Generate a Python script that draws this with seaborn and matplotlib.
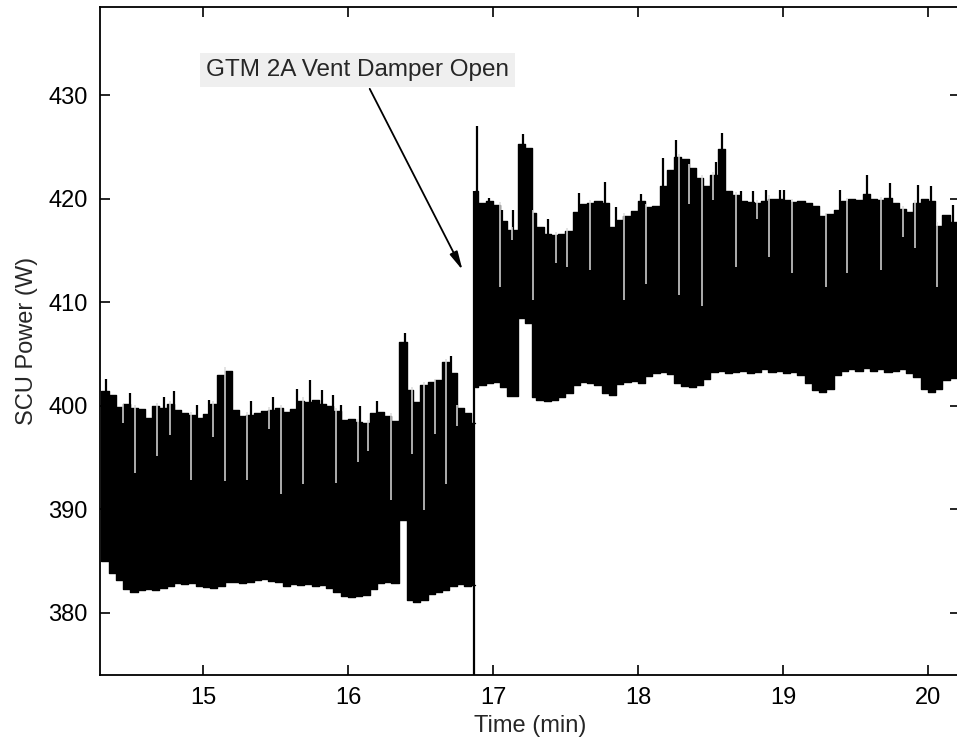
import numpy as np
import pandas as pd
import matplotlib
matplotlib.use("Agg")
import matplotlib.pyplot as plt
import seaborn as sns

# ---------------- data ----------------
# Segment before the damper opens (envelope of the dense SCU power signal)
seg1_time = [14.30, 14.35, 14.40, 14.45, 14.50, 14.55, 14.60, 14.65, 14.70, 14.75,
             14.80, 14.85, 14.90, 14.95, 15.00, 15.05, 15.10, 15.15, 15.20, 15.25,
             15.30, 15.35, 15.40, 15.45, 15.50, 15.55, 15.60, 15.65, 15.70, 15.75,
             15.80, 15.85, 15.90, 15.95, 16.00, 16.05, 16.10, 16.15, 16.20, 16.25,
             16.30, 16.35, 16.41, 16.45, 16.50, 16.55, 16.60, 16.65, 16.70, 16.75,
             16.80, 16.85]
seg1_upper = [401.4, 401.0, 399.9, 400.2, 399.8, 399.7, 398.8, 400.0, 399.8, 400.2,
              399.6, 399.3, 399.1, 398.8, 399.2, 400.2, 403.0, 403.4, 399.6, 399.0,
              399.1, 399.3, 399.5, 399.6, 399.8, 399.4, 399.7, 400.5, 400.4, 400.6,
              400.2, 400.0, 399.5, 398.6, 398.7, 398.4, 398.3, 399.3, 399.4, 399.0,
              398.5, 406.2, 401.5, 400.4, 402.0, 402.3, 402.5, 404.2, 403.2, 399.8,
              399.3, 398.3]
seg1_lower = [385.0, 383.8, 383.2, 382.3, 382.0, 382.2, 382.3, 382.2, 382.4, 382.6,
              382.9, 382.8, 382.9, 382.6, 382.5, 382.4, 382.6, 383.0, 383.0, 382.9,
              383.0, 383.2, 383.3, 383.1, 383.0, 382.6, 382.8, 382.7, 382.8, 382.6,
              382.7, 382.4, 382.0, 381.6, 381.5, 381.6, 381.7, 382.3, 382.9, 383.0,
              382.9, 389.0, 381.2, 381.0, 381.2, 381.8, 382.0, 382.2, 382.6, 382.8,
              382.6, 382.7]
seg1_end = 16.875

# Segment after the damper opens
seg2_time = [16.875, 16.90, 16.95, 17.00, 17.05, 17.10, 17.17, 17.22, 17.27, 17.30,
             17.35, 17.40, 17.45, 17.50, 17.55, 17.60, 17.65, 17.70, 17.75, 17.80,
             17.85, 17.90, 17.95, 18.00, 18.05, 18.10, 18.15, 18.20, 18.25, 18.30,
             18.35, 18.40, 18.45, 18.50, 18.55, 18.60, 18.65, 18.70, 18.75, 18.80,
             18.85, 18.90, 18.95, 19.00, 19.05, 19.10, 19.15, 19.20, 19.25, 19.30,
             19.35, 19.40, 19.45, 19.50, 19.55, 19.60, 19.65, 19.70, 19.75, 19.80,
             19.85, 19.90, 19.95, 20.00, 20.05, 20.10, 20.15]
seg2_upper = [420.7, 419.6, 419.8, 419.4, 417.8, 417.0, 425.3, 424.9, 418.6, 417.3,
              416.6, 416.5, 416.6, 416.9, 418.7, 419.5, 419.6, 419.8, 419.6, 417.3,
              417.9, 418.3, 418.8, 419.8, 419.2, 419.3, 421.2, 422.8, 424.0, 423.8,
              423.0, 422.0, 421.2, 422.3, 424.8, 420.7, 420.3, 419.8, 419.7, 419.6,
              419.8, 420.0, 420.0, 419.9, 419.7, 419.8, 419.6, 419.3, 418.3, 418.5,
              418.9, 419.8, 420.0, 419.9, 420.4, 420.0, 419.9, 420.1, 419.6, 419.0,
              418.7, 419.6, 420.0, 419.8, 417.4, 418.4, 417.7]
seg2_lower = [401.8, 402.0, 402.2, 402.3, 401.8, 400.9, 408.5, 408.0, 400.8, 400.6,
              400.5, 400.6, 400.8, 401.2, 402.0, 402.3, 402.2, 402.0, 401.2, 401.0,
              402.1, 402.3, 402.4, 402.2, 402.9, 403.2, 403.3, 403.1, 402.2, 401.9,
              401.8, 402.0, 402.6, 403.3, 403.4, 403.2, 403.3, 403.4, 403.2, 403.3,
              403.5, 403.3, 403.4, 403.2, 403.3, 403.0, 402.2, 401.5, 401.3, 401.6,
              403.0, 403.4, 403.5, 403.4, 403.6, 403.4, 403.5, 403.3, 403.4, 403.5,
              403.2, 402.8, 401.6, 401.3, 401.6, 402.5, 402.7]
seg2_end = 20.22

# Isolated upward peaks above the envelope
peak_time = [14.33, 14.50, 14.73, 14.80, 14.96, 15.04, 15.33, 15.48, 15.65, 15.74,
             15.82, 15.90, 15.95, 16.08, 16.20, 16.39, 16.71,
             16.89, 16.97, 17.06, 17.14, 17.21, 17.38, 17.59, 17.77, 17.85, 18.02,
             18.17, 18.26, 18.54, 18.58, 18.71, 18.79, 18.88, 18.98, 19.01, 19.39,
             19.58, 19.74, 19.93, 20.02, 20.17]
peak_value = [402.6, 401.2, 400.8, 401.4, 400.1, 400.6, 400.5, 400.8, 401.6, 402.5,
              401.5, 401.0, 400.1, 400.0, 400.5, 407.0, 404.8,
              427.0, 420.1, 418.9, 418.9, 426.2, 418.0, 420.5, 421.6, 419.2, 420.4,
              423.9, 425.7, 423.5, 426.3, 420.7, 420.7, 420.8, 420.8, 420.8, 420.8,
              422.3, 421.5, 421.3, 421.2, 419.4]

# Isolated downward dips of the upper envelope (pale gaps in the black band)
dip_time = [14.448, 14.53, 14.686, 14.77, 14.916, 15.07, 15.153, 15.304, 15.455,
            15.538, 15.688, 15.918, 16.069, 16.141, 16.299, 16.442, 16.525, 16.597,
            16.676, 16.751,
            17.048, 17.128, 17.278, 17.434, 17.508, 17.669, 17.903, 18.052, 18.285,
            18.354, 18.439, 18.519, 18.673, 18.823, 18.905, 19.059, 19.294, 19.443,
            19.673, 19.825, 19.91, 20.059]
dip_level = [398.3, 393.5, 395.1, 397.2, 392.8, 397.0, 392.7, 392.8, 397.8,
             391.5, 392.4, 392.5, 394.6, 395.6, 390.9, 395.3, 389.9, 397.3,
             392.4, 398.0,
             411.5, 416.0, 410.2, 413.8, 413.4, 413.1, 410.2, 411.8, 410.7,
             419.5, 409.6, 419.9, 413.4, 418.0, 414.4, 412.8, 411.5, 412.8,
             413.1, 416.3, 415.2, 411.5]

# Single dropout sample at the moment the damper opens
dropout_time = [16.872]
dropout_low = [370.0]
dropout_high = [420.7]

x_ticks = [15, 16, 17, 18, 19, 20]
y_ticks = [380, 390, 400, 410, 420, 430]
annotation_text = "GTM 2A Vent Damper Open"

# ---------------- plotting ----------------
sns.set_style("ticks")
plt.rcParams["font.family"] = ["Liberation Sans", "DejaVu Sans"]

fig = plt.figure(figsize=(9.57, 7.46), dpi=100)
ax = fig.add_axes([0.1045, 0.0952, 0.8985, 0.8954])


def segment_frame(times, upper, lower, end):
    t = np.array(list(times) + [end])
    up = np.array(list(upper) + [upper[-1]])
    lo = np.array(list(lower) + [lower[-1]])
    return pd.DataFrame({"t": t, "upper": up, "lower": lo})


frames = [segment_frame(seg1_time, seg1_upper, seg1_lower, seg1_end),
          segment_frame(seg2_time, seg2_upper, seg2_lower, seg2_end)]

for df in frames:
    ax.fill_between(df["t"], df["lower"], df["upper"], step="post",
                    color="black", lw=0)
    sns.lineplot(data=df, x="t", y="upper", ax=ax, color="black", lw=1.0,
                 drawstyle="steps-post", estimator=None, sort=False)
    sns.lineplot(data=df, x="t", y="lower", ax=ax, color="black", lw=1.0,
                 drawstyle="steps-post", estimator=None, sort=False)

all_t = np.concatenate([f["t"].values for f in frames])
all_lo = np.concatenate([f["lower"].values for f in frames])
all_up = np.concatenate([f["upper"].values for f in frames])
order = np.argsort(all_t, kind="stable")


def env(t, arr):
    idx = np.searchsorted(all_t[order], t, side="right") - 1
    idx = np.clip(idx, 0, len(order) - 1)
    return arr[order][idx]


# peaks
pt = np.array(peak_time)
ax.vlines(pt, env(pt, all_up) - 1.5, peak_value, color="black", lw=1.6)

# dips
dt = np.array(dip_time)
ax.vlines(dt, dip_level, env(dt, all_up) + 0.3, color="#dcdcdc", lw=1.1)

# dropout line
ax.vlines(dropout_time, dropout_low, dropout_high, color="black", lw=1.6)

ax.set_xlim(14.29, 20.22)
ax.set_ylim(374.0, 438.5)
ax.set_xticks(x_ticks)
ax.set_yticks(y_ticks)
ax.set_xticklabels([str(v) for v in x_ticks])
ax.set_yticklabels([str(v) for v in y_ticks])
ax.tick_params(direction="in", top=True, right=True, length=7, width=1.2,
               labelsize=17, colors="black", pad=9)
for s in ax.spines.values():
    s.set_visible(True)
    s.set_linewidth(1.3)
    s.set_color("black")

ax.set_xlabel("Time (min)", fontsize=17, labelpad=4)
ax.set_ylabel("SCU Power (W)", fontsize=17, labelpad=7)

ax.text(15.02, 432.4, annotation_text, fontsize=17.5, ha="left", va="center",
        bbox=dict(boxstyle="square,pad=0.25", fc="#efefef", ec="none"))
ax.annotate("", xy=(16.79, 413.1), xytext=(16.15, 430.6),
            arrowprops=dict(arrowstyle="-|>,head_length=1.1,head_width=0.25",
                            color="black", lw=1.3, shrinkA=0, shrinkB=0))

fig.savefig("out.png", dpi=100)
